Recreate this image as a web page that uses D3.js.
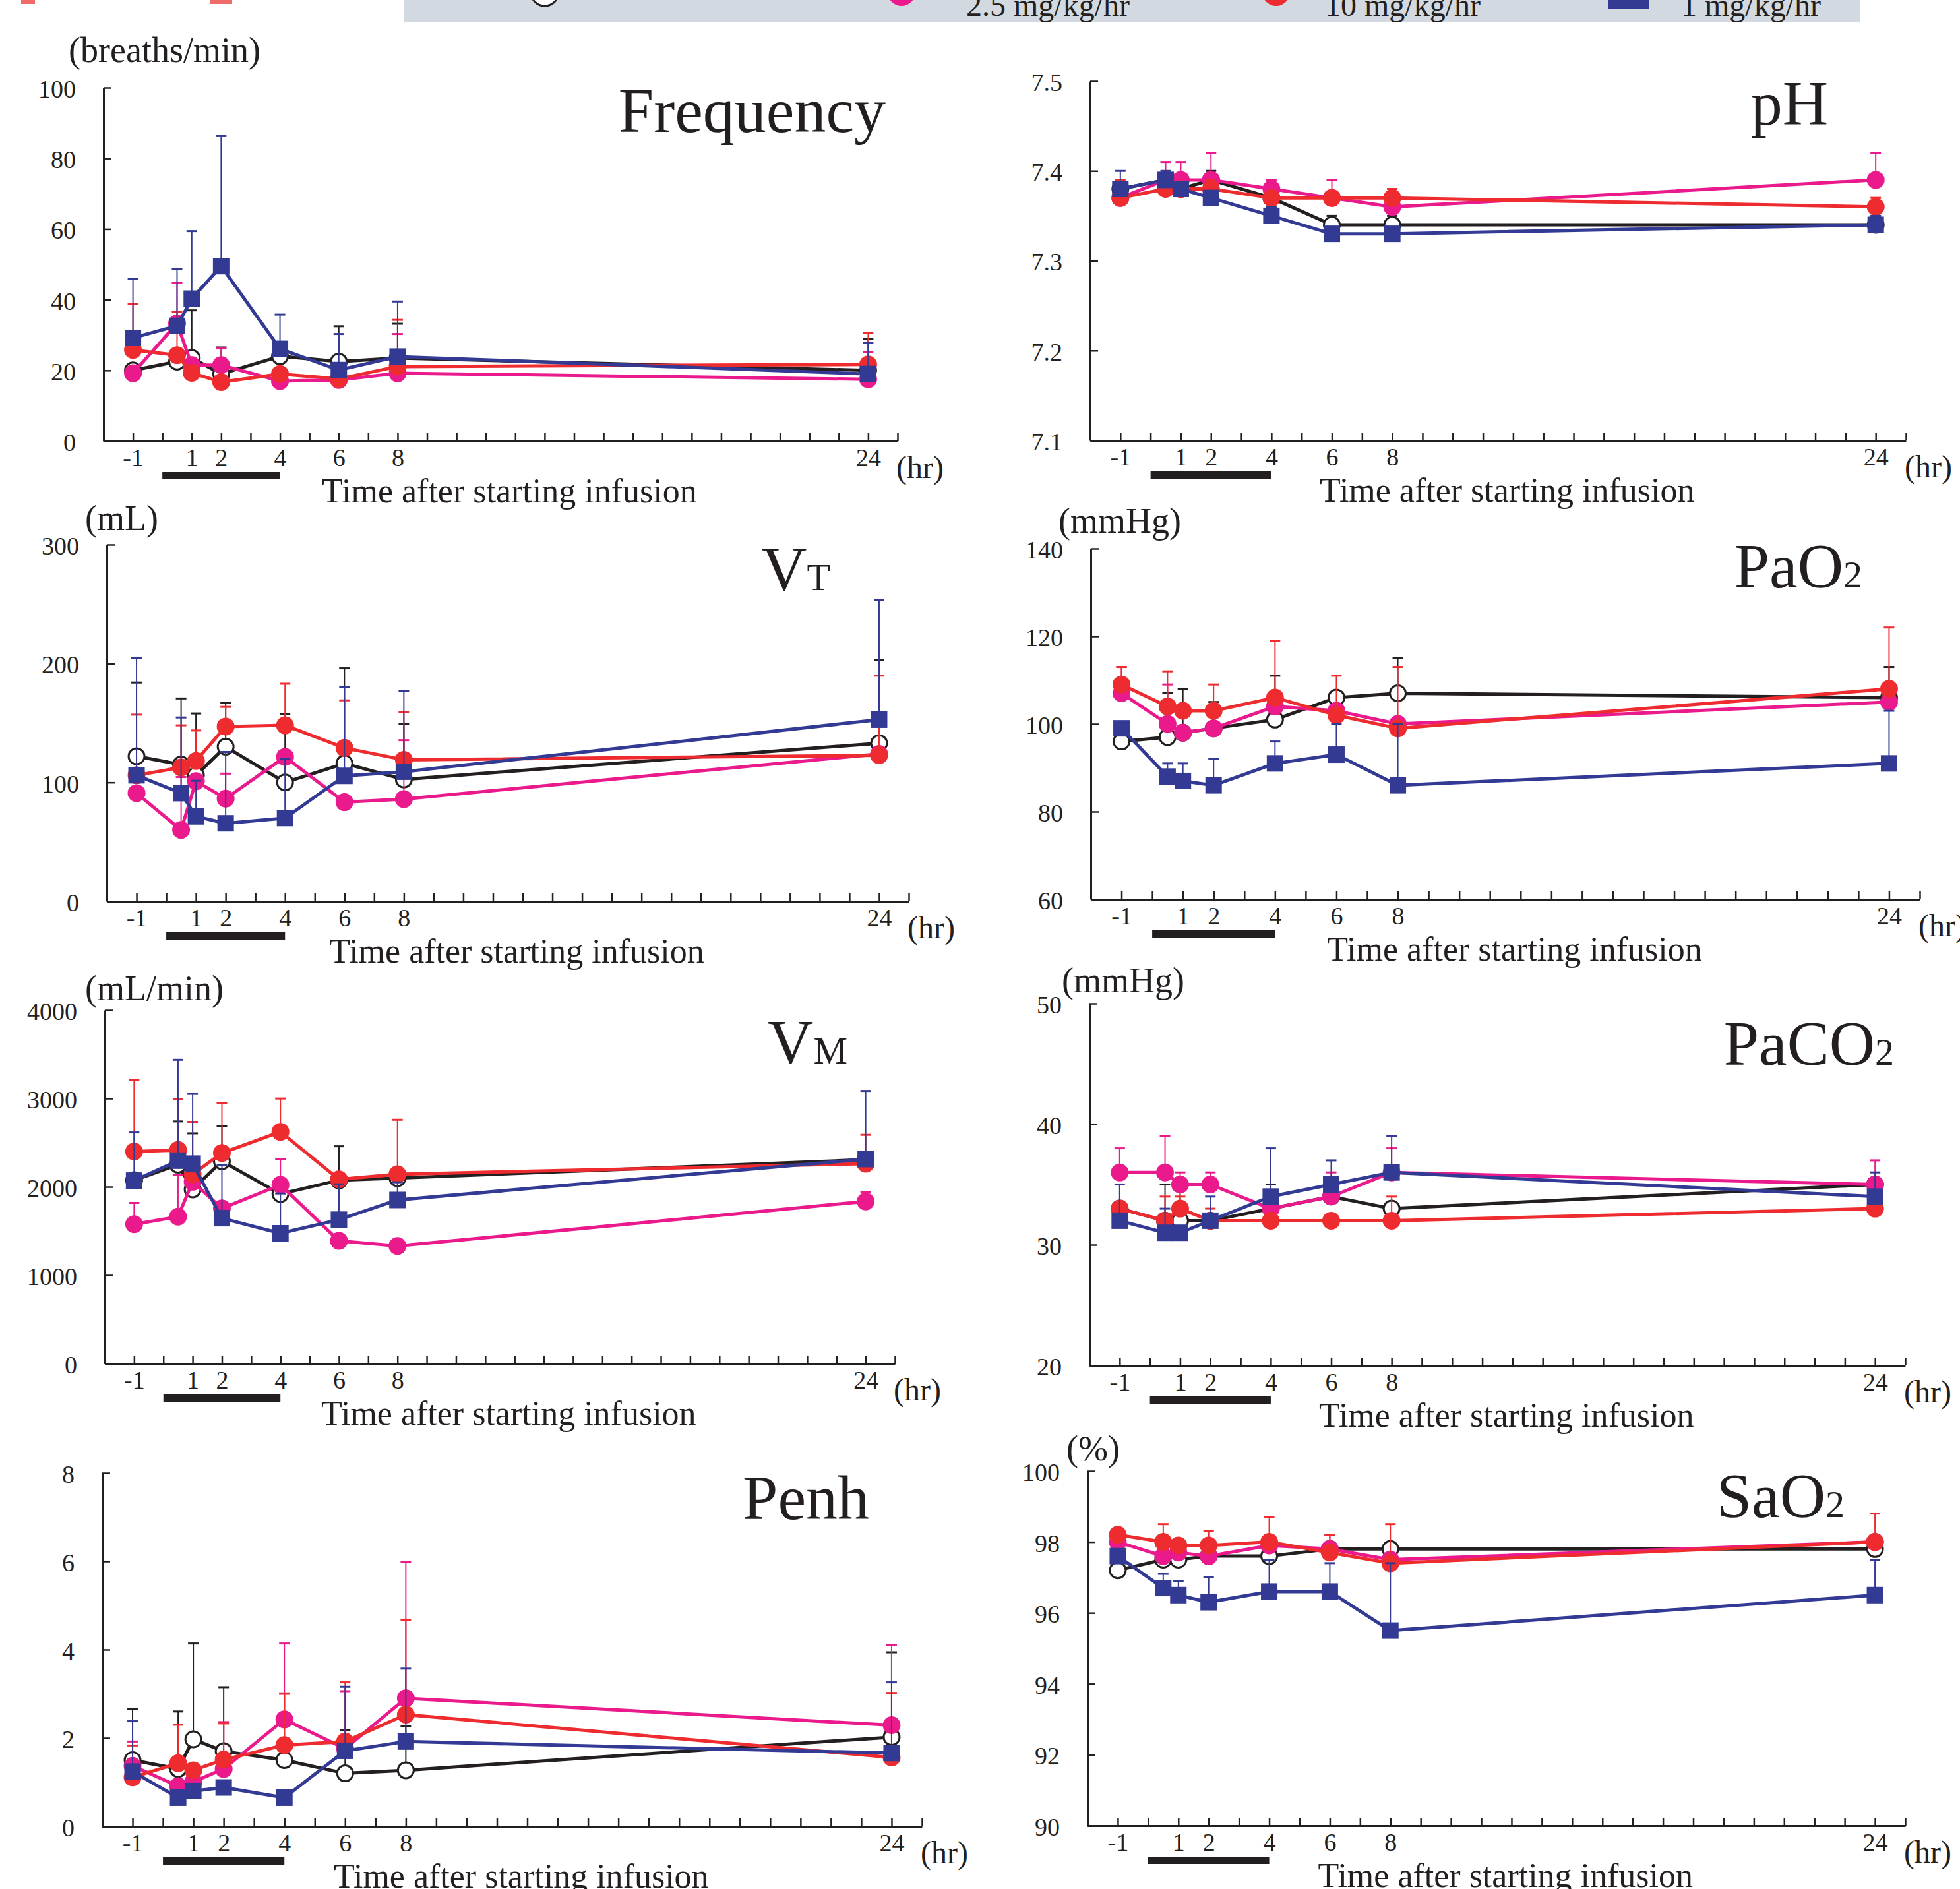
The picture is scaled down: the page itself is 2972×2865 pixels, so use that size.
<!DOCTYPE html>
<html>
<head>
<meta charset="utf-8">
<script src="https://cdn.jsdelivr.net/npm/d3@7"></script>
<style>
  body { margin: 0; background: #fff; }
  text { font-family: "Liberation Serif", "Times New Roman", serif; fill: #231f20; }
</style>
</head>
<body>
<script>

// sampling times, hr after starting infusion
var times = [-1, 0.5, 1, 2, 4, 6, 8, 24];
var xTickLabels = [-1, 1, 2, 4, 6, 8, 24];
var infusion = [0, 4];
var groups = ["Control", "2.5 mg/kg/hr", "10 mg/kg/hr", "1 mg/kg/hr"];

// rows: control, 2.5, 10, 1 mg/kg/hr   (sd = upper error bar, 0 = not shown)
var freqMean = [
  [20, 22.5, 23.5, 19, 24, 22.5, 23.5, 20],
  [19.2, 33.3, 21.5, 21.5, 17, 17.3, 19.2, 17.5],
  [25.8, 24.3, 19.3, 16.7, 19, 17.6, 21.1, 21.7],
  [29.2, 32.6, 40.3, 49.5, 26.1, 20.1, 23.9, 19]
];
var freqSD = [
  [0, 0, 13.5, 7.5, 0, 10, 9.7, 9],
  [0, 11.4, 0, 4.7, 0, 0, 11.1, 7.6],
  [13, 12.2, 0, 0, 0, 0, 13.2, 8.8],
  [16.6, 16, 19.1, 36.8, 9.7, 10.2, 15.6, 8.7]
];

var phMean = [
  [7.38, 7.39, 7.38, 7.39, 7.37, 7.34, 7.34, 7.34],
  [7.37, 7.39, 7.39, 7.39, 7.38, 7.37, 7.36, 7.39],
  [7.37, 7.38, 7.38, 7.38, 7.37, 7.37, 7.37, 7.36],
  [7.38, 7.39, 7.38, 7.37, 7.35, 7.33, 7.33, 7.34]
];
var phSD = [
  [0, 0, 0, 0.01, 0, 0.01, 0.01, 0.01],
  [0, 0.02, 0.02, 0.03, 0.01, 0.02, 0.01, 0.03],
  [0.02, 0.01, 0, 0.01, 0, 0, 0.01, 0.01],
  [0.02, 0.01, 0, 0, 0.01, 0, 0, 0.01]
];

var vtMean = [
  [122, 115, 106, 130, 100, 116, 102.5, 133],
  [91, 60, 101, 86.4, 121.5, 83.4, 86, 124],
  [106, 112.6, 118, 147, 148, 129, 119, 122.8],
  [106, 91, 71.4, 65.6, 70, 105.5, 109, 152.8]
];
var vtSD = [
  [62, 55.6, 52, 37, 57.6, 80, 46.5, 70],
  [0, 44.5, 0, 21, 0, 0, 49.5, 0],
  [51, 35.4, 25.7, 16.5, 35, 40, 40, 67],
  [98.7, 63.6, 30, 60, 50, 75, 67.7, 100.9]
];

var pao2Mean = [
  [96, 97, 98, 99, 101, 106, 107, 106],
  [107, 100, 98, 99, 104, 103, 100, 105],
  [109, 104, 103, 103, 106, 102, 99, 108],
  [99, 88, 87, 86, 91, 93, 86, 91]
];
var pao2SD = [
  [0, 10, 10, 6, 10, 0, 8, 7],
  [6, 9, 0, 0, 0, 0, 0, 0],
  [4, 8, 0, 6, 13, 9, 14, 14],
  [0, 3, 4, 6, 5, 7, 14, 12]
];

var vmMean = [
  [2074, 2250, 1971, 2290, 1919, 2074, 2098, 2307],
  [1577, 1662, 2057, 1755, 2022, 1388, 1330, 1834],
  [2399, 2416, 2142, 2382, 2622, 2084, 2142, 2262],
  [2070, 2296, 2262, 1645, 1474, 1628, 1851, 2314]
];
var vmSD = [
  [0, 490, 634, 394, 0, 384, 0, 0],
  [240, 470, 0, 0, 292, 0, 0, 103],
  [813, 576, 593, 566, 377, 0, 617, 326],
  [545, 1142, 789, 600, 450, 400, 200, 771]
];

var paco2Mean = [
  [33, 32, 32, 32, 33, 34, 33, 35],
  [36, 36, 35, 35, 33, 34, 36, 35],
  [33, 32, 33, 32, 32, 32, 32, 33],
  [32, 31, 31, 32, 34, 35, 36, 34]
];
var paco2SD = [
  [0, 3, 3, 0, 2, 0, 0, 0],
  [2, 3, 1, 1, 0, 2, 2, 2],
  [0, 2, 1, 1, 0, 0, 2, 0],
  [3, 2, 0, 2, 4, 2, 3, 2]
];

var penhMean = [
  [1.5, 1.3, 1.97, 1.7, 1.5, 1.2, 1.27, 2.02],
  [1.37, 0.91, 1.01, 1.3, 2.42, 1.76, 2.9, 2.29],
  [1.11, 1.43, 1.27, 1.51, 1.84, 1.92, 2.53, 1.56],
  [1.24, 0.65, 0.8, 0.88, 0.65, 1.71, 1.92, 1.66]
];
var penhSD = [
  [1.16, 1.3, 2.17, 1.45, 1.51, 0.98, 1.0, 1.92],
  [0.55, 0, 0, 1.06, 1.72, 1.3, 3.08, 1.81],
  [0.72, 0.87, 0, 0.82, 1.16, 1.34, 2.15, 1.46],
  [1.14, 0, 0, 0, 0, 1.45, 1.65, 1.6]
];

var sao2Mean = [
  [97.2, 97.5, 97.5, 97.6, 97.6, 97.8, 97.8, 97.8],
  [98.0, 97.6, 97.7, 97.6, 97.9, 97.8, 97.5, 98.0],
  [98.2, 98.0, 97.9, 97.9, 98.0, 97.7, 97.4, 98.0],
  [97.6, 96.7, 96.5, 96.3, 96.6, 96.6, 95.5, 96.5]
];
var sao2SD = [
  [0, 0, 0, 0, 0, 0, 0, 0],
  [0, 0, 0, 0, 0, 0.4, 0, 0],
  [0, 0.5, 0, 0.4, 0.7, 0.5, 1.1, 0.8],
  [0, 0.4, 0.4, 0.7, 0.9, 0.8, 1.9, 1.0]
];

// y tick values
var freqTicks = [0, 20, 40, 60, 80, 100];
var phTicks = [7.1, 7.2, 7.3, 7.4, 7.5];
var vtTicks = [0, 100, 200, 300];
var pao2Ticks = [60, 80, 100, 120, 140];
var vmTicks = [0, 1000, 2000, 3000, 4000];
var paco2Ticks = [20, 30, 40, 50];
var penhTicks = [0, 2, 4, 6, 8];
var sao2Ticks = [90, 92, 94, 96, 98, 100];

var colors = ["#231f20", "#ea1a8c", "#ee2b2f", "#323a94"];
var ink = "#231f20";
var serif = '"Liberation Serif", "Times New Roman", serif';

// box = [x of -2 hr, x of 25 hr, y top, y bottom]
var panels = [
  {name: "Frequency", sub: "", unit: "(breaths/min)", mean: freqMean, sd: freqSD, ticks: freqTicks, fmt: d3.format("d"),
   box: [157, 1361, 133, 669], title: [1343, 200], unitAt: [104, 94]},
  {name: "pH", sub: "", unit: "", mean: phMean, sd: phSD, ticks: phTicks, fmt: d3.format(".1f"),
   box: [1653, 2890, 123, 668], title: [2772, 189]},
  {name: "V", sub: "T", unit: "(mL)", mean: vtMean, sd: vtSD, ticks: vtTicks, fmt: d3.format("d"),
   box: [162, 1378, 826, 1367], title: [1259, 895], unitAt: [129, 804]},
  {name: "PaO", sub: "2", unit: "(mmHg)", mean: pao2Mean, sd: pao2SD, ticks: pao2Ticks, fmt: d3.format("d"),
   box: [1654, 2911, 832, 1364], title: [2824, 891], unitAt: [1605, 808]},
  {name: "V", sub: "M", unit: "(mL/min)", mean: vmMean, sd: vmSD, ticks: vmTicks, fmt: d3.format("d"),
   box: [159, 1357, 1532, 2068], title: [1285, 1613], unitAt: [129, 1517]},
  {name: "PaCO", sub: "2", unit: "(mmHg)", mean: paco2Mean, sd: paco2SD, ticks: paco2Ticks, fmt: d3.format("d"),
   box: [1652, 2889, 1522, 2071], title: [2872, 1615], unitAt: [1610, 1505]},
  {name: "Penh", sub: "", unit: "", mean: penhMean, sd: penhSD, ticks: penhTicks, fmt: d3.format("d"),
   box: [155, 1398, 2234, 2770], title: [1318, 2304]},
  {name: "SaO", sub: "2", unit: "(%)", mean: sao2Mean, sd: sao2SD, ticks: sao2Ticks, fmt: d3.format("d"),
   box: [1649, 2889, 2231, 2769], title: [2797, 2301], unitAt: [1617, 2215]}
];

var svg = d3.select("body").append("svg")
  .attr("width", 2972)
  .attr("height", 2865)
  .style("display", "block");

svg.append("rect").attr("width", 2972).attr("height", 2865).attr("fill", "#fff");

// legend strip, cut off at the top of the figure
var leg = svg.append("g");
leg.append("rect").attr("x", 612).attr("y", -10).attr("width", 2208).attr("height", 43).attr("fill", "#d2d9e0");
leg.append("rect").attr("x", 32).attr("y", 0).attr("width", 21).attr("height", 6).attr("fill", "#f26b6b");
leg.append("rect").attr("x", 318).attr("y", 0).attr("width", 34).attr("height", 6).attr("fill", "#f26b6b");
var legX = [826, 1367, 1935, 2469];
var legTextX = [null, 1465, 2009, 2549];
groups.forEach(function(g, i) {
  if (i === 3) {
    leg.append("rect").attr("x", legX[i] - 31).attr("y", -49).attr("width", 62).attr("height", 62).attr("fill", colors[i]);
  } else {
    leg.append("circle").attr("cx", legX[i]).attr("cy", -12).attr("r", 21)
      .attr("fill", i === 0 ? "#fff" : colors[i])
      .attr("stroke", i === 0 ? ink : "none").attr("stroke-width", 3);
  }
  if (legTextX[i]) {
    leg.append("text").attr("x", legTextX[i]).attr("y", 24)
      .style("font-size", "48px").text(g);
  }
});

panels.forEach(function(p) {
  var g = svg.append("g");
  var x = d3.scaleLinear().domain([-2, 25]).range([p.box[0], p.box[1]]);
  var y = d3.scaleLinear().domain(d3.extent(p.ticks)).range([p.box[3], p.box[2]]);

  // y axis, ticks pointing inward
  var ya = g.append("g").attr("transform", "translate(" + p.box[0] + ",0)")
    .call(d3.axisLeft(y).tickValues(p.ticks).tickFormat(p.fmt).tickSize(-12).tickSizeOuter(0).tickPadding(42));
  ya.selectAll("text").attr("dy", "0.38em");

  // x axis, hour ticks pointing up
  var xa = g.append("g").attr("transform", "translate(0," + p.box[3] + ")")
    .call(d3.axisBottom(x).tickValues(d3.range(-1, 26)).tickSize(-12).tickSizeOuter(0).tickPadding(11)
      .tickFormat(function(d) { return xTickLabels.indexOf(d) >= 0 ? d : ""; }));

  [ya, xa].forEach(function(a) {
    a.attr("font-family", serif).attr("font-size", 38);
    a.select(".domain").attr("stroke", ink).attr("stroke-width", 3);
    a.selectAll(".tick line").attr("stroke", ink).attr("stroke-width", 2.5);
    a.selectAll("text").style("fill", ink).style("font-family", serif).style("font-size", "38px");
  });

  g.append("text").attr("x", p.box[1] - 2).attr("y", p.box[3] + 56)
    .style("font-size", "48px").text("(hr)");

  g.append("rect").attr("x", x(infusion[0])).attr("y", p.box[3] + 47)
    .attr("width", x(infusion[1]) - x(infusion[0])).attr("height", 11).attr("fill", ink);

  g.append("text").attr("x", x(11.8)).attr("y", p.box[3] + 93)
    .attr("text-anchor", "middle").style("font-size", "52px").text("Time after starting infusion");

  if (p.unit) {
    g.append("text").attr("x", p.unitAt[0]).attr("y", p.unitAt[1])
      .style("font-size", "54px").text(p.unit);
  }

  var t = g.append("text").attr("x", p.title[0]).attr("y", p.title[1])
    .attr("text-anchor", "end").style("font-size", "96px").text(p.name);
  if (p.sub) t.append("tspan").style("font-size", "58px").text(p.sub);

  var line = d3.line()
    .x(function(d, i) { return x(times[i]); })
    .y(function(d) { return y(d); });

  p.mean.forEach(function(row, s) {
    var c = colors[s];
    var sg = g.append("g");

    // upper error bars
    row.forEach(function(m, i) {
      var e = p.sd[s][i];
      if (!e) return;
      var cx = x(times[i]);
      sg.append("line").attr("x1", cx).attr("x2", cx).attr("y1", y(m)).attr("y2", y(m + e))
        .attr("stroke", c).attr("stroke-width", 2);
      sg.append("line").attr("x1", cx - 8).attr("x2", cx + 8).attr("y1", y(m + e)).attr("y2", y(m + e))
        .attr("stroke", c).attr("stroke-width", 3);
    });

    sg.append("path").datum(row).attr("d", line)
      .attr("fill", "none").attr("stroke", c).attr("stroke-width", 5).attr("stroke-linejoin", "round");

    if (s === 3) {
      sg.selectAll("rect.pt").data(row).enter().append("rect")
        .attr("x", function(d, i) { return x(times[i]) - 12.5; })
        .attr("y", function(d) { return y(d) - 12.5; })
        .attr("width", 25).attr("height", 25).attr("fill", c);
    } else {
      sg.selectAll("circle.pt").data(row).enter().append("circle")
        .attr("cx", function(d, i) { return x(times[i]); })
        .attr("cy", function(d) { return y(d); })
        .attr("r", s === 0 ? 12 : 13.5)
        .attr("fill", s === 0 ? "#fff" : c)
        .attr("stroke", s === 0 ? ink : "none")
        .attr("stroke-width", 3);
    }
  });
});

</script>
</body>
</html>
